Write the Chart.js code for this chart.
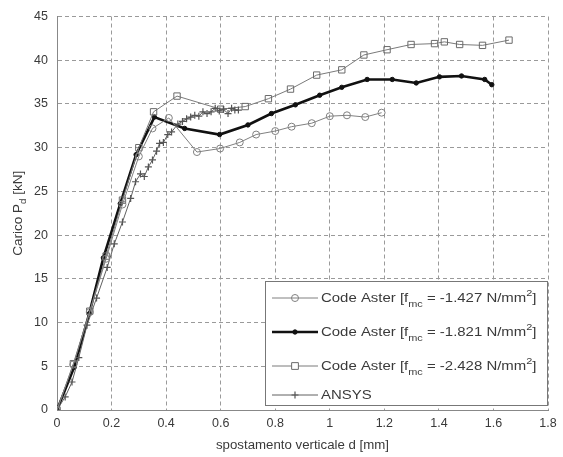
<!DOCTYPE html>
<html>
<head>
<meta charset="utf-8">
<script src="https://cdn.jsdelivr.net/npm/chart.js@4/dist/chart.umd.min.js"></script>
<style>
html,body{margin:0;padding:0;background:#fff;}
#wrap{position:relative;width:563px;height:457px;}
</style>
</head>
<body>
<div id="wrap"><canvas id="c" width="563" height="457"></canvas></div>
<script>
// ---- data ----
const xTicks = [0, 0.2, 0.4, 0.6, 0.8, 1, 1.2, 1.4, 1.6, 1.8];
const yTicks = [0, 5, 10, 15, 20, 25, 30, 35, 40, 45];

const x1427 = [0, 0.06, 0.12, 0.18, 0.24, 0.30, 0.35, 0.41, 0.513, 0.598, 0.67, 0.73, 0.80, 0.86, 0.934, 1.0, 1.063, 1.13, 1.19];
const y1427 = [0, 5.2, 11.2, 17.3, 23.5, 29.0, 32.2, 33.4, 29.5, 29.9, 30.6, 31.5, 31.9, 32.4, 32.8, 33.6, 33.7, 33.5, 34.0];

const x1821 = [0, 0.063, 0.118, 0.17, 0.232, 0.29, 0.357, 0.468, 0.596, 0.70, 0.786, 0.874, 0.963, 1.044, 1.137, 1.229, 1.317, 1.402, 1.483, 1.568, 1.594];
const y1821 = [0, 4.9, 11.0, 17.4, 23.6, 29.2, 33.5, 32.2, 31.5, 32.6, 33.9, 34.9, 36.0, 36.9, 37.8, 37.8, 37.4, 38.1, 38.2, 37.8, 37.2];

const x2428 = [0, 0.06, 0.12, 0.18, 0.24, 0.30, 0.354, 0.44, 0.60, 0.69, 0.775, 0.856, 0.952, 1.044, 1.125, 1.21, 1.298, 1.384, 1.42, 1.476, 1.56, 1.657];
const y2428 = [0, 5.3, 11.3, 17.6, 24.0, 30.0, 34.1, 35.9, 34.4, 34.7, 35.6, 36.7, 38.3, 38.9, 40.6, 41.2, 41.8, 41.9, 42.1, 41.8, 41.7, 42.3];

const xAnsys = [0, 0.03, 0.055, 0.08, 0.11, 0.145, 0.184, 0.21, 0.24, 0.27, 0.288, 0.306, 0.32, 0.335, 0.35, 0.365, 0.376, 0.39, 0.406, 0.42, 0.443, 0.46, 0.475, 0.49, 0.505, 0.52, 0.535, 0.55, 0.565, 0.58, 0.595, 0.61, 0.627, 0.64, 0.652, 0.665];
const yAnsys = [0, 1.5, 3.2, 6.0, 9.7, 12.8, 16.3, 19.0, 21.5, 24.2, 26.1, 27.0, 26.7, 27.8, 28.6, 29.6, 30.5, 30.6, 31.5, 31.8, 32.7, 33.0, 33.3, 33.5, 33.7, 33.6, 34.1, 33.9, 34.1, 34.5, 34.2, 34.4, 33.9, 34.5, 34.3, 34.3];

const legendLabels = [
  {pre: 'Code Aster [f', sub: 'mc', mid: ' = -1.427 N/mm', sup: '2', post: ']'},
  {pre: 'Code Aster [f', sub: 'mc', mid: ' = -1.821 N/mm', sup: '2', post: ']'},
  {pre: 'Code Aster [f', sub: 'mc', mid: ' = -2.428 N/mm', sup: '2', post: ']'},
  {pre: 'ANSYS', sub: '', mid: '', sup: '', post: ''}
];

function pts(xs, ys) { return xs.map((x, i) => ({x: x, y: ys[i]})); }

const FONT = '"Liberation Sans", Arial, sans-serif';
const TXT = '#3a3a3a';

const datasets = [
  {data: pts(x1427, y1427), borderColor: '#808080', borderWidth: 1, pointStyle: 'circle', pointRadius: 3.5,
   pointBorderColor: '#808080', pointBackgroundColor: 'rgba(255,255,255,0)', pointBorderWidth: 1},
  {data: pts(xAnsys, yAnsys), borderColor: '#606060', borderWidth: 1, pointStyle: 'cross', pointRadius: 3.5,
   pointBorderColor: '#555', pointBackgroundColor: '#555', pointBorderWidth: 1.2},
  {data: pts(x2428, y2428), borderColor: '#7a7a7a', borderWidth: 1, pointStyle: 'rect', pointRadius: 4.5,
   pointBorderColor: '#6a6a6a', pointBackgroundColor: 'rgba(255,255,255,0)', pointBorderWidth: 1},
  {data: pts(x1821, y1821), borderColor: '#111', borderWidth: 2.6, pointStyle: 'circle', pointRadius: 2.2,
   pointBorderColor: '#111', pointBackgroundColor: '#111', pointBorderWidth: 1}
];

const overlay = {
  id: 'overlay',
  afterDraw(chart) {
    const ctx = chart.ctx;
    const ca = chart.chartArea;
    ctx.save();
    // x title
    ctx.fillStyle = TXT;
    ctx.textBaseline = 'alphabetic';
    ctx.save();
    ctx.translate((ca.left + ca.right) / 2, 449);
    ctx.scale(1.06, 1);
    ctx.font = '12.5px ' + FONT;
    ctx.textAlign = 'center';
    ctx.fillText('spostamento verticale d [mm]', 0, 0);
    ctx.restore();
    // y title rotated with subscript
    ctx.save();
    ctx.translate(22, (ca.top + ca.bottom) / 2);
    ctx.rotate(-Math.PI / 2);
    ctx.scale(1.08, 1);
    ctx.textAlign = 'left';
    const p1 = 'Carico P', p2 = 'd', p3 = ' [kN]';
    ctx.font = '12.5px ' + FONT;
    const w1 = ctx.measureText(p1).width, w3 = ctx.measureText(p3).width;
    ctx.font = '9px ' + FONT;
    const w2 = ctx.measureText(p2).width;
    let sx = -(w1 + w2 + w3) / 2;
    ctx.font = '12.5px ' + FONT;
    ctx.fillText(p1, sx, 0); sx += w1;
    ctx.font = '9px ' + FONT;
    ctx.fillText(p2, sx, 4); sx += w2;
    ctx.font = '12.5px ' + FONT;
    ctx.fillText(p3, sx, 0);
    ctx.restore();

    // legend box
    const bx = 265, by = 281, bw = 282, bh = 124;
    ctx.fillStyle = '#fff';
    ctx.fillRect(bx, by, bw, bh);
    ctx.strokeStyle = '#777';
    ctx.lineWidth = 1;
    ctx.strokeRect(bx + 0.5, by + 0.5, bw, bh);
    const rows = [298, 332, 366, 395];
    const order = [0, 3, 2, 1];
    rows.forEach((ry, i) => {
      const ds = chart.data.datasets[order[i]];
      ctx.strokeStyle = ds.borderColor;
      ctx.lineWidth = ds.borderWidth;
      ctx.beginPath();
      ctx.moveTo(272, ry);
      ctx.lineTo(318, ry);
      ctx.stroke();
      const mx = 295;
      ctx.strokeStyle = ds.pointBorderColor;
      ctx.fillStyle = ds.pointBackgroundColor;
      ctx.lineWidth = ds.pointBorderWidth;
      const r = ds.pointRadius;
      ctx.beginPath();
      if (ds.pointStyle === 'circle') {
        ctx.arc(mx, ry, r, 0, Math.PI * 2);
        ctx.fill(); ctx.stroke();
      } else if (ds.pointStyle === 'rect') {
        ctx.rect(mx - r * 0.75, ry - r * 0.75, r * 1.5, r * 1.5);
        ctx.fillStyle = '#fff';
        ctx.fill(); ctx.stroke();
      } else {
        ctx.moveTo(mx - r, ry); ctx.lineTo(mx + r, ry);
        ctx.moveTo(mx, ry - r); ctx.lineTo(mx, ry + r);
        ctx.stroke();
      }
      // text (horizontally stretched like the reference)
      const L = legendLabels[i];
      ctx.save();
      ctx.translate(321, ry + 4);
      ctx.scale(1.15, 1);
      ctx.fillStyle = TXT;
      ctx.textAlign = 'left';
      let tx = 0;
      ctx.font = '13px ' + FONT;
      ctx.fillText(L.pre, tx, 0); tx += ctx.measureText(L.pre).width;
      if (L.sub) {
        ctx.font = '9.5px ' + FONT;
        ctx.fillText(L.sub, tx, 4.5); tx += ctx.measureText(L.sub).width;
      }
      ctx.font = '13px ' + FONT;
      ctx.fillText(L.mid, tx, 0); tx += ctx.measureText(L.mid).width;
      if (L.sup) {
        ctx.font = '9.5px ' + FONT;
        ctx.fillText(L.sup, tx, -6); tx += ctx.measureText(L.sup).width;
      }
      ctx.font = '13px ' + FONT;
      ctx.fillText(L.post, tx, 0);
      ctx.restore();
    });
    ctx.restore();
  }
};

new Chart(document.getElementById('c'), {
  type: 'line',
  data: {datasets: datasets},
  options: {
    responsive: false,
    animation: false,
    layout: {padding: {left: 0, right: 15, top: 14, bottom: 0}},
    plugins: {legend: {display: false}, tooltip: {enabled: false}},
    scales: {
      x: {
        type: 'linear', min: 0, max: 1.8,
        afterBuildTicks(s) { s.ticks = xTicks.map(v => ({value: v})); },
        afterFit(s) { s.height = 47; },
        grid: {color: '#9a9a9a', lineWidth: 1, drawTicks: false, tickLength: 0},
        border: {display: true, color: '#888', width: 1, dash: [4, 3]},
        ticks: {color: TXT, font: {family: FONT, size: 12.5}, padding: 6, maxRotation: 0,
          callback: v => String(v)}
      },
      y: {
        type: 'linear', min: 0, max: 45,
        afterBuildTicks(s) { s.ticks = yTicks.map(v => ({value: v})); },
        afterFit(s) { s.width = 57; },
        grid: {color: '#9a9a9a', lineWidth: 1, drawTicks: false, tickLength: 0},
        border: {display: true, color: '#888', width: 1, dash: [4, 3]},
        ticks: {color: TXT, font: {family: FONT, size: 12.5}, padding: 9,
          callback: v => String(v)}
      }
    }
  },
  plugins: [overlay]
});
</script>
</body>
</html>
